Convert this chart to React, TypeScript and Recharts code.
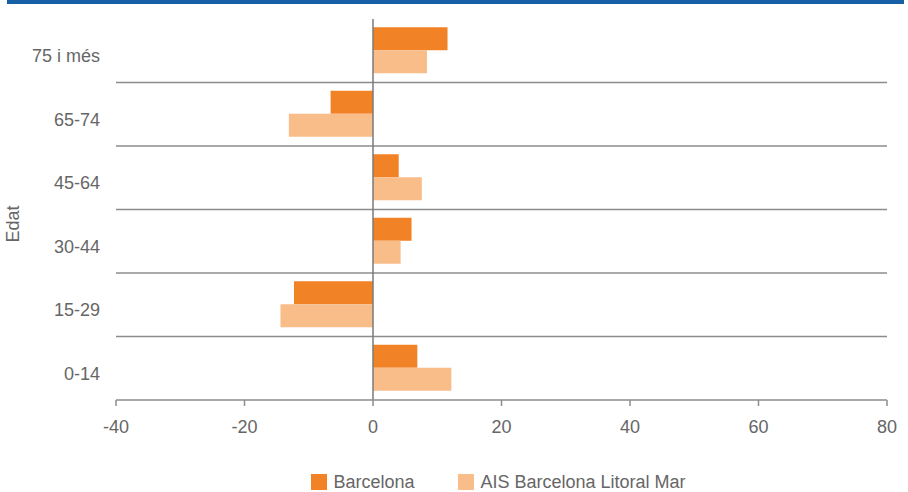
import {
  BarChart,
  Bar,
  XAxis,
  YAxis,
  CartesianGrid,
  ReferenceLine,
  Legend,
} from "recharts";

const ageGroups = ["75 i més", "65-74", "45-64", "30-44", "15-29", "0-14"];
const barcelona = [11.6, -6.6, 4.0, 6.0, -12.3, 6.9];
const aisLitoralMar = [8.4, -13.1, 7.6, 4.3, -14.4, 12.2];
const seriesNames = ["Barcelona", "AIS Barcelona Litoral Mar"];
const xTicks = [-40, -20, 0, 20, 40, 60, 80];

const data = ageGroups.map((edat, i) => ({
  edat,
  barcelona: barcelona[i],
  ais: aisLitoralMar[i],
}));

const textColor = "#666";
const lineColor = "#8c8c8c";

// lines sit between the age bands, not on the band centres
const bandLines = ({ offset }: any) => {
  const step = offset.height / ageGroups.length;
  return ageGroups.slice(1).map((_, i) => offset.top + step * (i + 1));
};

const renderLegend = (props: any) => {
  const items = [...(props.payload || [])].sort(
    (a: any, b: any) => seriesNames.indexOf(a.value) - seriesNames.indexOf(b.value)
  );
  return (
    <div
      style={{
        display: "flex",
        justifyContent: "center",
        alignItems: "center",
        height: 24,
        paddingTop: 4,
        paddingLeft: 89,
        boxSizing: "border-box",
        fontSize: 18,
        color: textColor,
      }}
    >
      {items.map((entry: any, i: number) => (
        <div
          key={entry.value}
          style={{ display: "flex", alignItems: "center", marginRight: i === 0 ? 44 : 0 }}
        >
          <span
            style={{ width: 16, height: 16, background: entry.color, marginRight: 6, display: "inline-block" }}
          />
          <span>{entry.value}</span>
        </div>
      ))}
    </div>
  );
};

const renderAxisTitle = () => (
  <text
    x={13}
    y={224}
    transform="rotate(-90 13 224)"
    textAnchor="middle"
    dominantBaseline="central"
    fill={textColor}
    fontSize={18}
  >
    Edat
  </text>
);

export default function App() {
  return (
    <div
      style={{
        position: "absolute",
        left: 0,
        top: 0,
        width: 908,
        height: 492,
        background: "#fff",
        fontFamily: "'Liberation Sans', Arial, sans-serif",
      }}
    >
      <div
        style={{ position: "absolute", left: 7, top: 0, width: 897, height: 4, background: "#1760a8" }}
      />
      <BarChart
        width={908}
        height={492}
        data={data}
        layout="vertical"
        margin={{ top: 19, right: 21, left: 0, bottom: 0 }}
        barCategoryGap="13%"
        barGap={0}
      >
        <CartesianGrid
          vertical={false}
          stroke={lineColor}
          strokeWidth={1.5}
          horizontalCoordinatesGenerator={bandLines}
        />
        <XAxis
          type="number"
          domain={[-40, 80]}
          ticks={xTicks}
          interval={0}
          height={68}
          tickSize={6}
          tickMargin={14}
          axisLine={{ stroke: lineColor, strokeWidth: 1.5 }}
          tickLine={{ stroke: lineColor, strokeWidth: 1.5 }}
          tick={{ fill: textColor, fontSize: 18 }}
        />
        <YAxis
          type="category"
          dataKey="edat"
          width={116}
          axisLine={false}
          tickLine={false}
          tickSize={0}
          tickMargin={16}
          tick={{ fill: textColor, fontSize: 18, dy: 5 }}
          label={{ value: "Edat", content: renderAxisTitle }}
        />
        <Bar dataKey="barcelona" name={seriesNames[0]} fill="#f28226" isAnimationActive={false} />
        <Bar dataKey="ais" name={seriesNames[1]} fill="#f9bd89" isAnimationActive={false} />
        <ReferenceLine x={0} stroke="#7a7a7a" strokeWidth={1.5} />
        <Legend
          verticalAlign="bottom"
          wrapperStyle={{ left: 0, width: 908 }}
          content={renderLegend}
        />
      </BarChart>
    </div>
  );
}
